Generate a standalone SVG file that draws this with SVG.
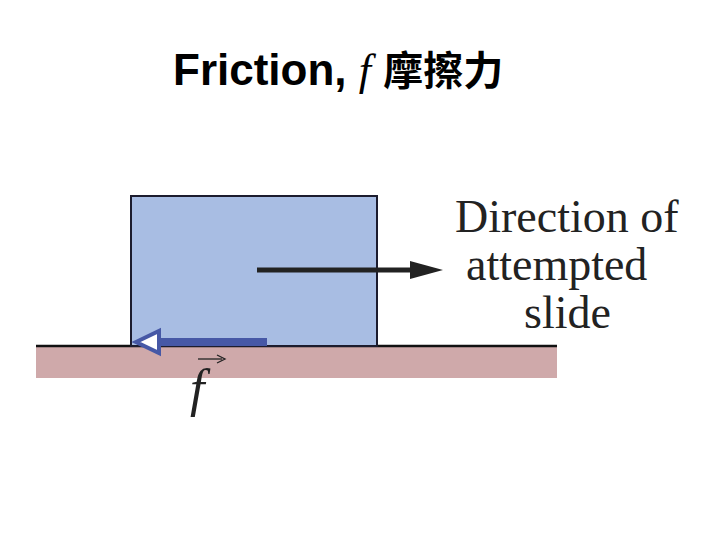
<svg xmlns="http://www.w3.org/2000/svg" width="720" height="540" viewBox="0 0 720 540">
<style>
.lbl{font-family:"Liberation Serif","Times New Roman",serif;font-size:46px;fill:#222}
</style>
<rect width="720" height="540" fill="#fff"/>
<g id="title">
<text x="173" y="85" font-family="'Liberation Sans',Arial,sans-serif" font-weight="bold" font-size="44" fill="#000">Friction, <tspan font-family="'Liberation Serif',serif" font-style="italic" font-weight="normal">f</tspan> <tspan font-family="'Noto Sans CJK TC',sans-serif" font-size="40">摩擦力</tspan></text>
</g>
<g id="floor"><rect x="36" y="346" width="521" height="32" fill="#cfa9aa"/><line x1="36" y1="346" x2="557" y2="346" stroke="#111" stroke-width="2.5"/></g>
<g id="block"><rect x="131" y="196" width="246" height="150" fill="#a8bde3" stroke="#1c1c2e" stroke-width="2"/></g>
<g id="connectors">
<line x1="257" y1="270" x2="412" y2="270" stroke="#222" stroke-width="5"/>
<path d="M410,261 L443,270 L410,279 z" fill="#222"/>
<rect x="158" y="338" width="109" height="8" fill="#4658a6"/>
<path d="M136,342 L159,331 L159,353 z" fill="#fff" stroke="#4658a6" stroke-width="4"/>
</g>
<g id="f-label">
<text x="190" y="406" font-family="'Liberation Serif',serif" font-style="italic" font-size="52" fill="#222">f</text>
<line x1="198" y1="359" x2="222" y2="359" stroke="#222" stroke-width="1.3"/>
<path d="M217,355 L225,359 L217,363" fill="none" stroke="#222" stroke-width="1.3"/>
</g>
<g id="direction-label">
<text class="lbl" x="455" y="232">Direction of</text>
<text class="lbl" x="466" y="280">attempted</text>
<text class="lbl" x="524" y="328">slide</text>
</g>
</svg>
